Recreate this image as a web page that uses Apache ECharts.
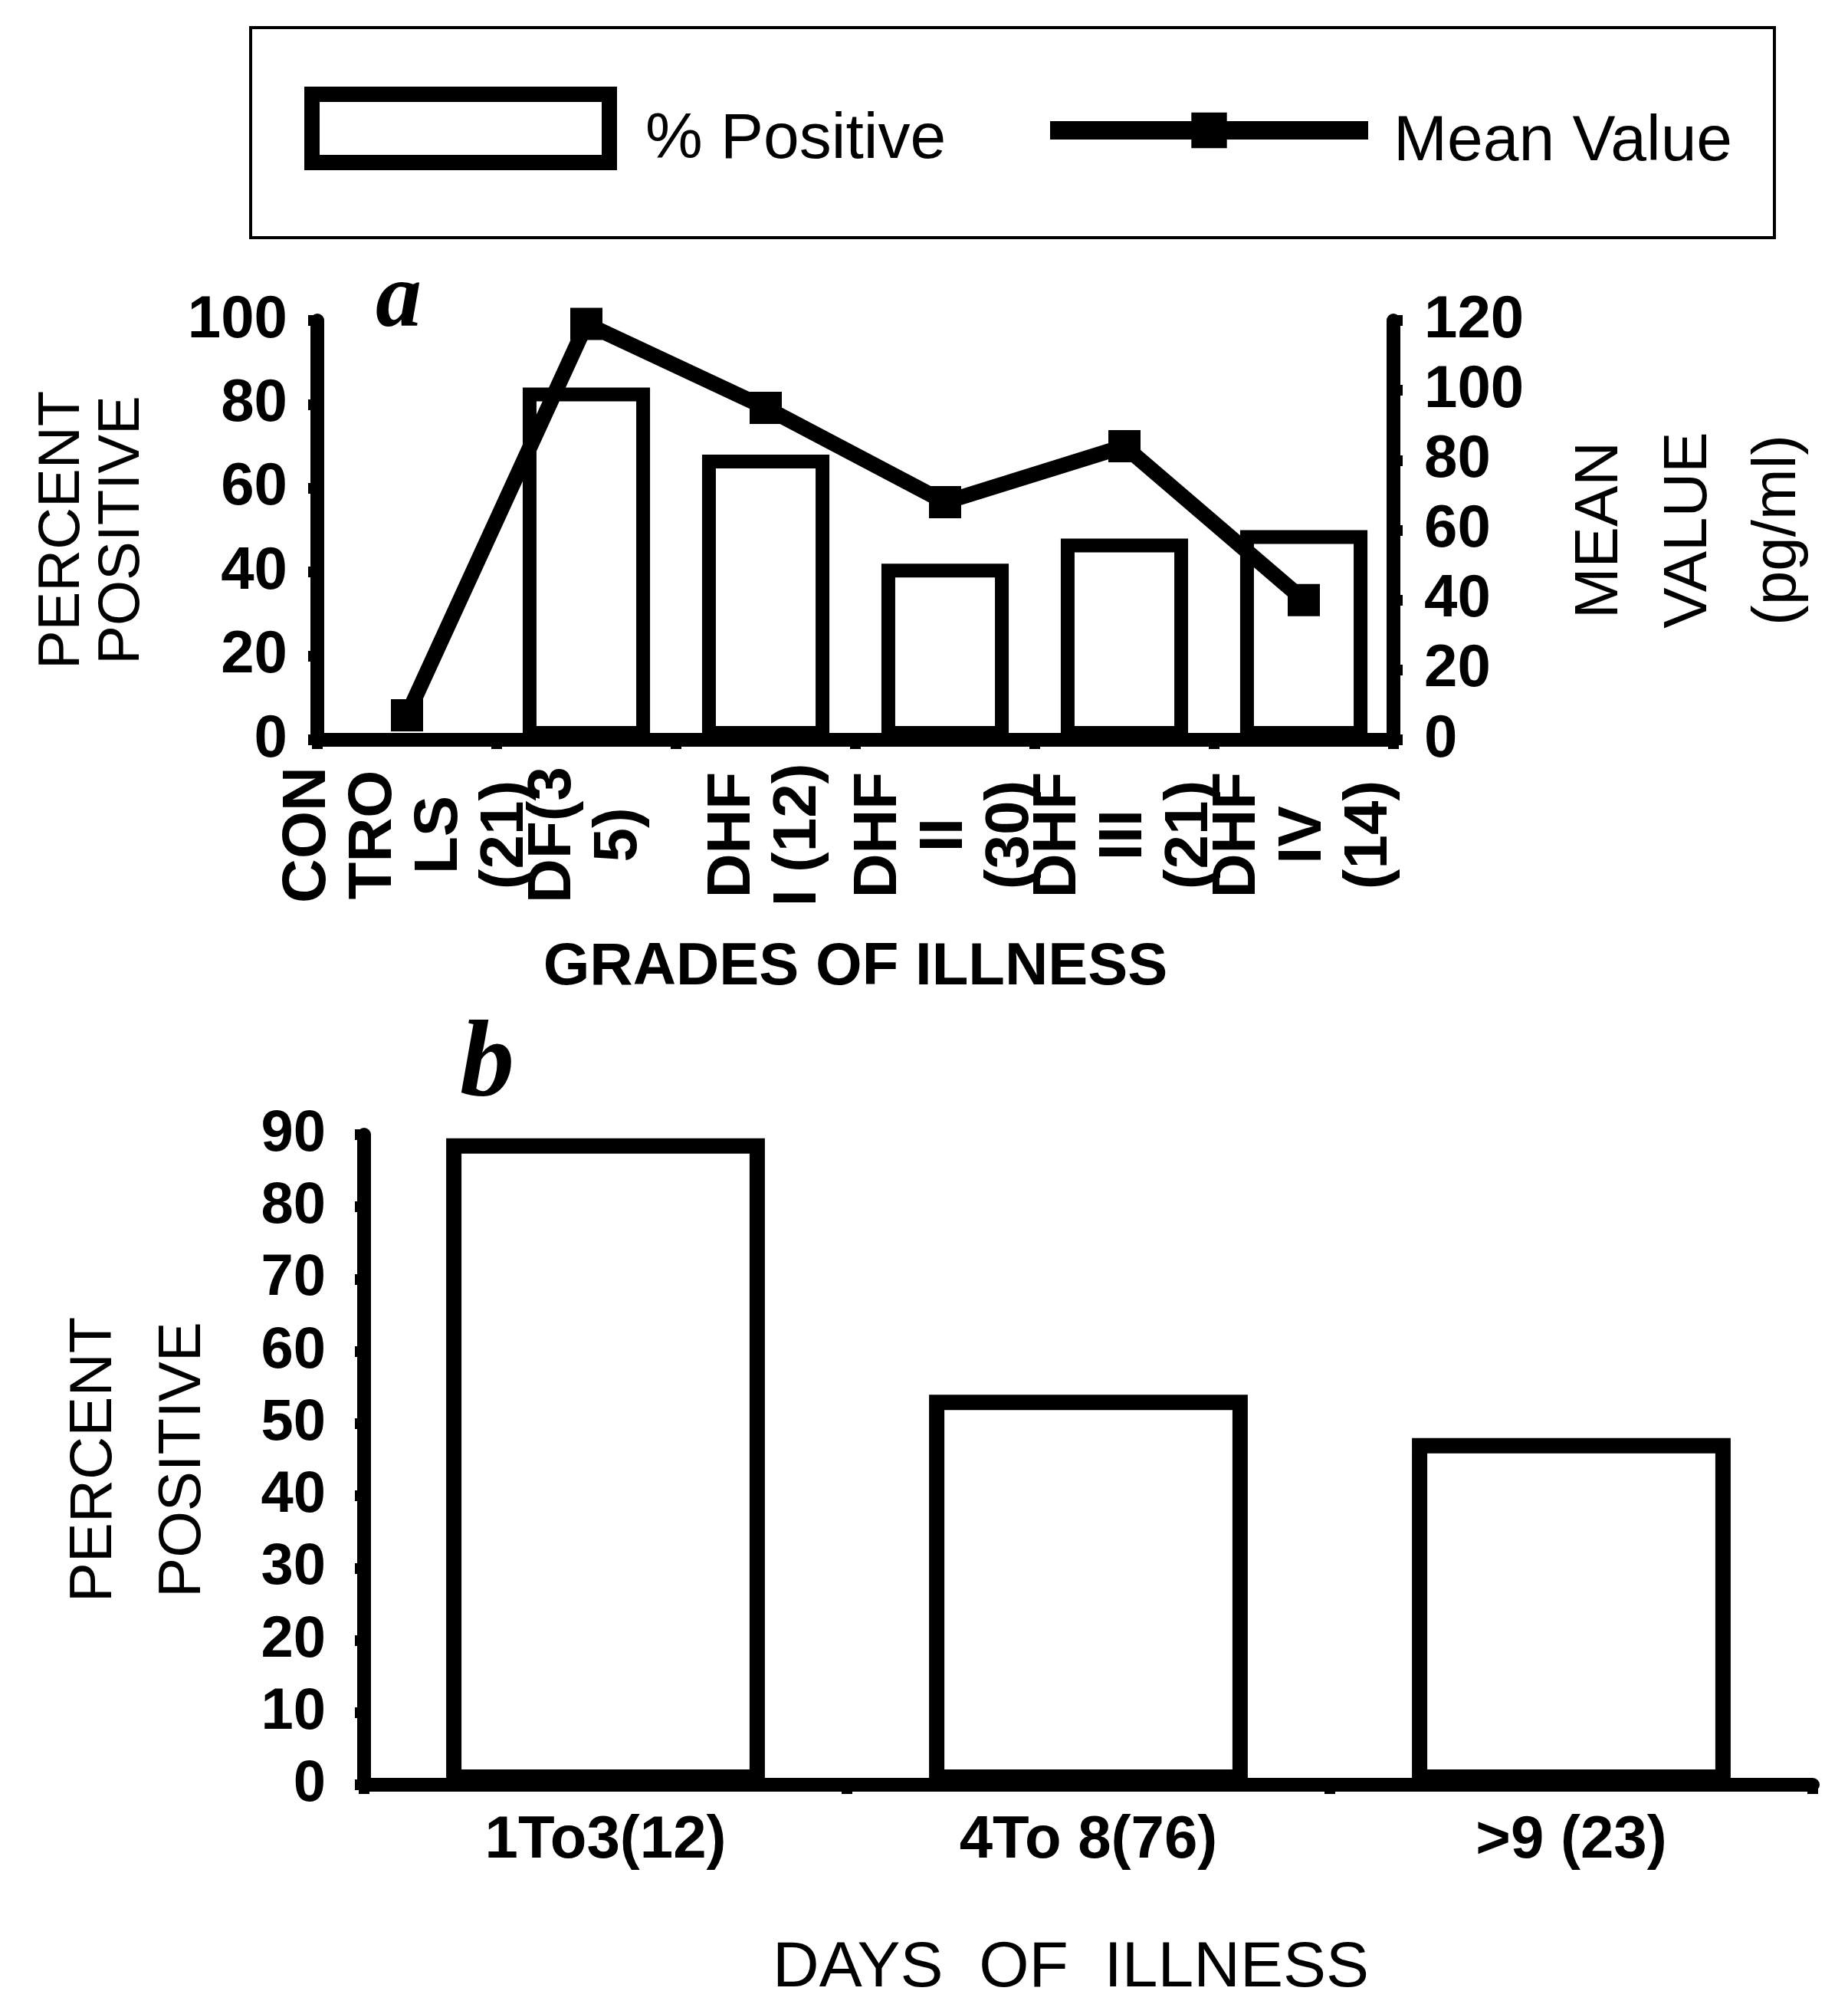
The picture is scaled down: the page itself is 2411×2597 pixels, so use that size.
<!DOCTYPE html>
<html><head><meta charset="utf-8">
<script src="https://cdn.jsdelivr.net/npm/echarts@6/dist/echarts.min.js"></script>
<style>html,body{margin:0;padding:0;background:#fff}#c{width:2411px;height:2597px}</style>
</head><body><div id="c"></div>
<script>
// ---- data ----
const gradeCategories = ['CON\nTRO\nLS\n(21)', 'DF(3\n5)', 'DHF\nI (12)', 'DHF\nII\n(30)', 'DHF\nIII\n(21)', 'DHF\nIV\n(14)'];
const gradePercentPositive = [0, 84, 68, 42, 48, 50];
const gradeMeanValue = [7, 119, 95, 68, 84, 40];
const dayCategories = ['1To3(12)', '4To 8(76)', '>9 (23)'];
const dayPercentPositive = [89.5, 54, 48];

const F = "'Liberation Sans', Arial, Helvetica, sans-serif";
const BLACK = '#000';

const chart = echarts.init(document.getElementById('c'), null, {renderer: 'canvas'});
const axisLine = {show: true, lineStyle: {color: BLACK, width: 18}};
const axisTick = {show: true, length: 12, lineStyle: {color: BLACK, width: 14}};

const option = {
  backgroundColor: '#fff',
  animation: false,
  graphic: [
    {type: 'rect', shape: {x: 327, y: 36, width: 1988, height: 274}, style: {fill: 'none', stroke: BLACK, lineWidth: 4}},
    {type: 'text', x: 490, y: 394, style: {text: 'a', font: 'italic bold 120px "Liberation Serif", "Times New Roman", serif', fill: BLACK, align: 'left', verticalAlign: 'middle'}},
    {type: 'text', x: 600, y: 1392, style: {text: 'b', font: 'italic bold 142px "Liberation Serif", "Times New Roman", serif', fill: BLACK, align: 'left', verticalAlign: 'middle'}}
  ],
  legend: [
    {
      data: [{name: '% Positive', icon: 'rect'}],
      left: 392, top: 108, itemWidth: 388, itemHeight: 89, selectedMode: false,
      itemStyle: {color: '#fff', borderColor: BLACK, borderWidth: 20},
      formatter: '{t|{name}}',
      textStyle: {fontFamily: F, fontSize: 84, color: BLACK,
        rich: {t: {fontFamily: F, fontSize: 84, color: BLACK, padding: [30, 0, 0, 42]}}}
    },
    {
      data: ['Mean Value'],
      left: 1353, top: 139, itemWidth: 415, itemHeight: 58, selectedMode: false,
      lineStyle: {width: 24, color: BLACK},
      itemStyle: {color: BLACK},
      formatter: '{t|{name}}',
      textStyle: {fontFamily: F, fontSize: 84, color: BLACK,
        rich: {t: {fontFamily: F, fontSize: 84, color: BLACK, padding: [32, 0, 0, 28]}}}
    }
  ],
  grid: [
    {left: 414, top: 418, width: 1404, height: 547, outerBoundsMode: 'none', containLabel: false},
    {left: 475, top: 1480, width: 1890, height: 848, outerBoundsMode: 'none', containLabel: false}
  ],
  xAxis: [
    {
      gridIndex: 0, type: 'category', data: gradeCategories, boundaryGap: true,
      axisLine: axisLine, axisTick: axisTick,
      axisLabel: {interval: 0, rotate: 90, align: 'center', verticalAlign: 'middle', margin: 124,
        fontFamily: F, fontWeight: 'bold', fontSize: 80, lineHeight: 86, color: BLACK},
      name: 'GRADES OF ILLNESS', nameLocation: 'middle', nameGap: 258,
      nameTextStyle: {fontFamily: F, fontWeight: 'bold', fontSize: 78, color: BLACK}
    },
    {
      gridIndex: 1, type: 'category', data: dayCategories, boundaryGap: true,
      axisLine: axisLine, axisTick: axisTick,
      axisLabel: {interval: 0, margin: 34, fontFamily: F, fontWeight: 'bold', fontSize: 78, color: BLACK},
      name: 'DAYS  OF  ILLNESS', nameLocation: 'middle', nameGap: 198,
      nameTextStyle: {fontFamily: F, fontSize: 84, color: BLACK, padding: [0, 46, 0, 0]}
    }
  ],
  yAxis: [
    {
      gridIndex: 0, type: 'value', position: 'left', min: 0, max: 100, interval: 20,
      axisLine: axisLine, axisTick: axisTick, splitLine: {show: false},
      axisLabel: {margin: 39, fontFamily: F, fontWeight: 'bold', fontSize: 78, color: BLACK},
      name: 'PERCENT\nPOSITIVE', nameLocation: 'middle', nameGap: 215,
      nameTextStyle: {fontFamily: F, fontSize: 76, lineHeight: 78, color: BLACK}
    },
    {
      gridIndex: 0, type: 'value', position: 'right', min: 0, max: 120, interval: 20,
      axisLine: axisLine, axisTick: axisTick, splitLine: {show: false},
      axisLabel: {margin: 40, fontFamily: F, fontWeight: 'bold', fontSize: 78, color: BLACK},
      name: 'MEAN\nVALUE\n(pg/ml)', nameLocation: 'middle', nameGap: 212,
      nameTextStyle: {fontFamily: F, fontSize: 80, lineHeight: 116, color: BLACK}
    },
    {
      gridIndex: 1, type: 'value', position: 'left', min: 0, max: 90, interval: 10,
      axisLine: axisLine, axisTick: axisTick, splitLine: {show: false},
      axisLabel: {margin: 50, fontFamily: F, fontWeight: 'bold', fontSize: 76, color: BLACK},
      name: 'PERCENT\nPOSITIVE', nameLocation: 'middle', nameGap: 178,
      nameTextStyle: {fontFamily: F, fontSize: 78, lineHeight: 116, color: BLACK}
    }
  ],
  series: [
    {
      type: 'bar', name: '% Positive', xAxisIndex: 0, yAxisIndex: 0, data: gradePercentPositive,
      barWidth: '71%', itemStyle: {color: '#fff', borderColor: BLACK, borderWidth: 18}
    },
    {
      type: 'line', name: 'Mean Value', xAxisIndex: 0, yAxisIndex: 1, data: gradeMeanValue,
      symbol: 'rect', symbolSize: 42, showSymbol: true,
      lineStyle: {color: BLACK, width: 20}, itemStyle: {color: BLACK}
    },
    {
      type: 'bar', name: 'Days of illness', xAxisIndex: 1, yAxisIndex: 2, data: dayPercentPositive,
      barWidth: '66%', itemStyle: {color: '#fff', borderColor: BLACK, borderWidth: 20}
    }
  ]
};
chart.setOption(option);
</script>
</body></html>
